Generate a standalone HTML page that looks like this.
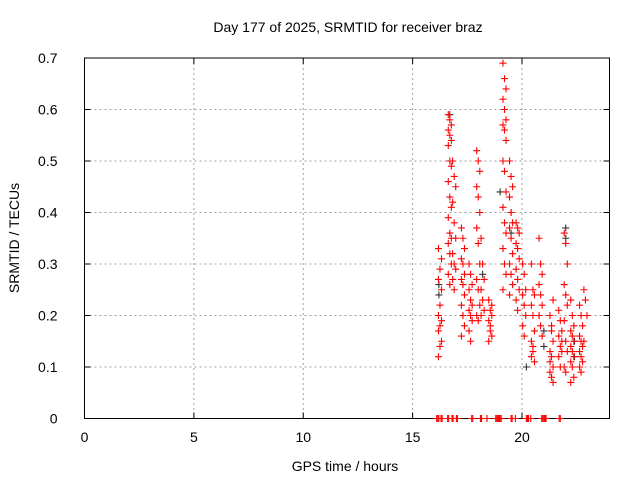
<!DOCTYPE html>
<html><head><meta charset="utf-8"><style>
body{margin:0;background:#fff;}
svg text{font-family:"Liberation Sans",sans-serif;font-size:14px;fill:#000;}
</style></head><body>
<svg id="chart" width="640" height="480" xmlns="http://www.w3.org/2000/svg">
<text x="348" y="32" text-anchor="middle">Day 177 of 2025, SRMTID for receiver braz</text>
<text transform="translate(19,238) rotate(-90)" text-anchor="middle">SRMTID / TECUs</text>
<text x="345" y="471" text-anchor="middle">GPS time / hours</text>
<g id="grid"></g><g id="axes"></g><g id="marks"></g>
</svg>
<script>
const xTicks=[0,5,10,15,20];
const yTicks=[0,0.1,0.2,0.3,0.4,0.5,0.6,0.7];
const yTickLabels=["0","0.1","0.2","0.3","0.4","0.5","0.6","0.7"];
const redClusters=[
[16.25,[0.12,0.14,0.15,0.17,0.18,0.19,0.2,0.22,0.25,0.27,0.29,0.31,0.33]],
[16.7,[0.59,0.58,0.57,0.56,0.55,0.54,0.53,0.5,0.49,0.46,0.43,0.41,0.39,0.36,0.35,0.34,0.32,0.3,0.28,0.26]],
[16.9,[0.5,0.47,0.45,0.42,0.38,0.35,0.32,0.3,0.29,0.27,0.25]],
[17.3,[0.37,0.35,0.33,0.31,0.3,0.28,0.27,0.26,0.24,0.22,0.2,0.18,0.16]],
[17.65,[0.3,0.28,0.26,0.25,0.23,0.22,0.21,0.2,0.19,0.17,0.15]],
[18.0,[0.52,0.5,0.48,0.45,0.43,0.4,0.37,0.34,0.3,0.27,0.25,0.22,0.2,0.19]],
[18.2,[0.35,0.3,0.27,0.25,0.23,0.21,0.2]],
[18.55,[0.23,0.21,0.2,0.19,0.17,0.16,0.15,0.18,0.22]],
[19.2,[0.69,0.66,0.64,0.62,0.6,0.58,0.57,0.56,0.54,0.5,0.48,0.44,0.41,0.38,0.36,0.33,0.3,0.28,0.25]],
[19.5,[0.5,0.47,0.45,0.43,0.4,0.38,0.37,0.35,0.32,0.3,0.28,0.26,0.24]],
[19.8,[0.38,0.37,0.36,0.34,0.33,0.31,0.29,0.27,0.25,0.23,0.21]],
[20.1,[0.3,0.28,0.25,0.24,0.22,0.2,0.18,0.16]],
[20.5,[0.3,0.25,0.24,0.22,0.2,0.17,0.15,0.13,0.11,0.12,0.14]],
[20.85,[0.35,0.3,0.28,0.26,0.24,0.22,0.2,0.18,0.16,0.2]],
[21.35,[0.2,0.18,0.15,0.13,0.12,0.1,0.09,0.08,0.07,0.11,0.17,0.23]],
[21.75,[0.21,0.19,0.17,0.16,0.14,0.13,0.12,0.1,0.15]],
[22.0,[0.36,0.34,0.3,0.26,0.24,0.22,0.19,0.15,0.13,0.1,0.09]],
[22.3,[0.23,0.2,0.18,0.17,0.16,0.15,0.14,0.13,0.12,0.11,0.1,0.08,0.07]],
[22.7,[0.22,0.2,0.18,0.16,0.15,0.14,0.13,0.12,0.11,0.1,0.09]],
[22.9,[0.25,0.23,0.2,0.15]]
];
const blackTimes=[16.2,16.2,16.7,18.2,19.0,19.5,19.5,21.0,21.0,22.0,22.0,22.4,22.4,20.2];
const blackValues=[0.24,0.26,0.59,0.28,0.44,0.4,0.36,0.14,0.17,0.37,0.35,0.15,0.12,0.1];
const zeroTimes=[16.1,16.15,16.2,16.3,16.35,16.6,16.65,16.8,16.85,17.0,17.05,17.7,17.75,18.1,18.15,18.4,18.8,18.85,18.9,18.95,19.0,19.05,19.5,19.55,19.7,20.2,20.25,20.3,20.4,20.9,20.95,21.0,21.05,21.1,21.7,21.75];
const L=84.5,R=609.5,T=58,B=418.5;
const xs=v=>L+(R-L)*v/24, ys=v=>B-(B-T)*v/0.7;
const NS="http://www.w3.org/2000/svg";
function mk(tag,attrs,parent){const e=document.createElementNS(NS,tag);for(const k in attrs)e.setAttribute(k,attrs[k]);parent.appendChild(e);return e;}
const grid=document.getElementById('grid'),axes=document.getElementById('axes'),marks=document.getElementById('marks');
xTicks.forEach((t,i)=>{const x=xs(t);
 if(i>0){const g=mk('line',{x1:x,x2:x,y1:T,y2:B,stroke:'#a0a0a0','stroke-dasharray':'2,3'},grid);}
 mk('line',{x1:x,x2:x,y1:B,y2:B-6,stroke:'#000'},axes);mk('line',{x1:x,x2:x,y1:T,y2:T+6,stroke:'#000'},axes);
 const tx=mk('text',{x:x,y:442,'text-anchor':'middle'},axes);tx.textContent=t;
 });
yTicks.forEach((t,i)=>{const y=ys(t);
 if(i>0&&i<yTicks.length-1){const g=mk('line',{x1:L,x2:R,y1:y,y2:y,stroke:'#a0a0a0','stroke-dasharray':'2,3'},grid);}
 mk('line',{x1:L,x2:L+6,y1:y,y2:y,stroke:'#000'},axes);mk('line',{x1:R,x2:R-6,y1:y,y2:y,stroke:'#000'},axes);
 const tx=mk('text',{x:L-27,y:y+5,'text-anchor':'end'},axes);tx.textContent=yTickLabels[i];
 });
const frame=mk('rect',{x:L,y:T,width:R-L,height:B-T,fill:'none',stroke:'#000','stroke-width':1},axes);

function plus(h,v,col){const x=xs(h),y=ys(v);
 const p=mk('path',{d:`M${x-3.5},${y}H${x+3.5}M${x},${y-3.5}V${y+3.5}`,stroke:col,'stroke-width':1.1,fill:'none'},marks);
 return p;}
blackTimes.forEach((h,i)=>{const p=plus(h,blackValues[i],'#333');
 
 });
redClusters.forEach(([h,vals])=>vals.forEach((v,j)=>{const p=plus(h+((j%3)-1)*0.07,v,'#f00');
 
 }));
zeroTimes.forEach(h=>{const p=plus(h,0,'#f00');
 
 });
</script>
</body></html>
